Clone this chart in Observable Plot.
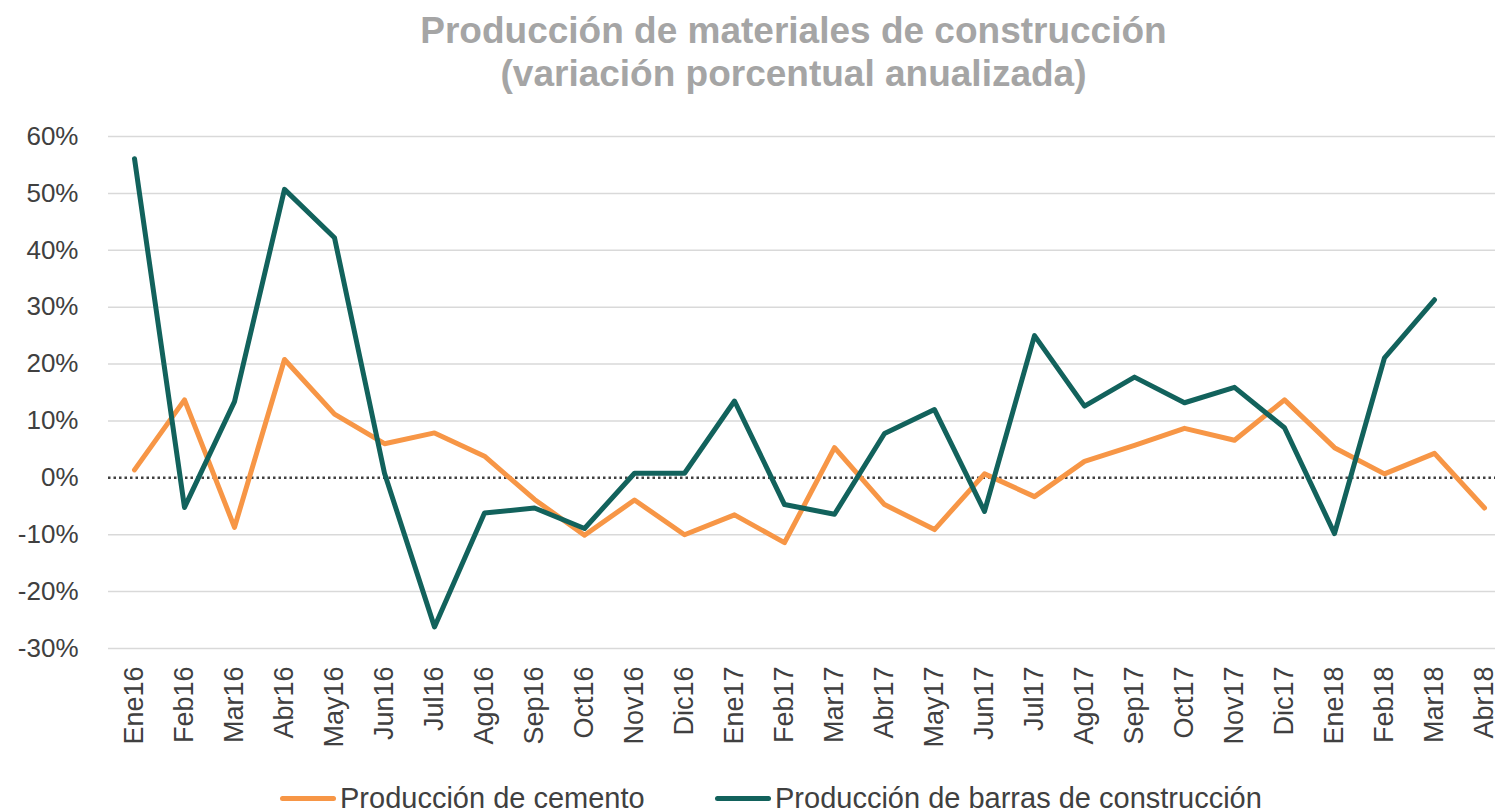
<!DOCTYPE html>
<html><head><meta charset="utf-8">
<script src="https://cdn.jsdelivr.net/npm/d3@7"></script>
<script src="https://cdn.jsdelivr.net/npm/@observablehq/plot@0.6"></script>
<style>
  html,body{margin:0;padding:0;background:#fff;}
  body{width:1495px;height:812px;overflow:hidden;font-family:"Liberation Sans",Arial,sans-serif;}
  #title{position:absolute;left:0;top:9px;width:1495px;padding-left:92px;box-sizing:border-box;text-align:center;color:#a5a5a5;font-weight:bold;font-size:37px;line-height:43px;}
  #chart{position:absolute;left:0;top:100px;}
  #legend{position:absolute;left:0;top:780px;width:1495px;height:32px;font-size:29px;color:#404040;}
  .sw{position:absolute;top:16px;width:56px;height:5px;border-radius:3px;}
  .lt{position:absolute;top:0px;line-height:36px;white-space:nowrap;}
</style></head>
<body>
<div id="title">Producción de materiales de construcción<br>(variación porcentual anualizada)</div>
<div id="chart"></div>
<div id="legend">
  <div class="sw" style="left:280px;background:#f79646"></div><div class="lt" style="left:340px">Producción de cemento</div>
  <div class="sw" style="left:715px;background:#12625c"></div><div class="lt" style="left:775px">Producción de barras de construcción</div>
</div>
<script>
const months = ["Ene16","Feb16","Mar16","Abr16","May16","Jun16","Jul16","Ago16","Sep16","Oct16","Nov16","Dic16",
  "Ene17","Feb17","Mar17","Abr17","May17","Jun17","Jul17","Ago17","Sep17","Oct17","Nov17","Dic17",
  "Ene18","Feb18","Mar18","Abr18"];
const cemento = [1.4,13.7,-8.7,20.8,11.2,6.0,7.9,3.8,-3.8,-10.1,-3.9,-10.0,
  -6.5,-11.4,5.3,-4.7,-9.1,0.7,-3.3,2.9,5.7,8.7,6.6,13.7,
  5.3,0.7,4.3,-5.3];
const barras = [56.1,-5.2,13.4,50.7,42.2,0.8,-26.2,-6.2,-5.3,-8.9,0.8,0.8,
  13.5,-4.7,-6.4,7.8,12.0,-5.9,25.0,12.6,17.7,13.2,15.9,8.8,
  -9.8,21.1,31.3,null];
const yTicks = [-30,-20,-10,0,10,20,30,40,50,60];
const seriesNames = ["Producción de cemento","Producción de barras de construcción"];
const colors = ["#f79646","#12625c"];

const rows = [];
months.forEach((m,i)=>{
  rows.push({month:m, value:cemento[i], serie:seriesNames[0]});
  rows.push({month:m, value:barras[i], serie:seriesNames[1]});
});

const chart = Plot.plot({
  width:1495, height:648,
  marginLeft:133, marginRight:10, marginTop:36, marginBottom:100,
  style:{fontFamily:"'Liberation Sans',Arial,sans-serif", color:"#404040", background:"#fff"},
  x:{type:"point", domain:months, padding:0, label:null},
  y:{domain:[-30,60], label:null},
  color:{domain:seriesNames, range:colors},
  marks:[
    Plot.ruleY(yTicks.filter(d=>d!==0), {stroke:"#d9d9d9", strokeWidth:1.5, insetLeft:-25, insetRight:-10}),
    Plot.ruleY([0], {stroke:"#404040", strokeWidth:2.5, strokeDasharray:"2.5,3", insetLeft:-25, insetRight:-10}),
    Plot.axisY({ticks:yTicks, tickSize:0, tickPadding:55, tickFormat:d=>d+"%", fontSize:26, fill:"#404040", textAnchor:"end"}),
    Plot.axisX({tickSize:0, tickPadding:18, tickRotate:-90, fontSize:27, fill:"#404040"}),
    Plot.line(rows.filter(d=>d.serie===seriesNames[0]), {x:"month", y:"value", stroke:"serie", strokeWidth:5, strokeLinejoin:"round", strokeLinecap:"round"}),
    Plot.line(rows.filter(d=>d.serie===seriesNames[1]), {x:"month", y:"value", stroke:"serie", strokeWidth:5, strokeLinejoin:"round", strokeLinecap:"round", defined:d=>d.value!==null})
  ]
});
document.getElementById("chart").appendChild(chart);
</script>
</body></html>
